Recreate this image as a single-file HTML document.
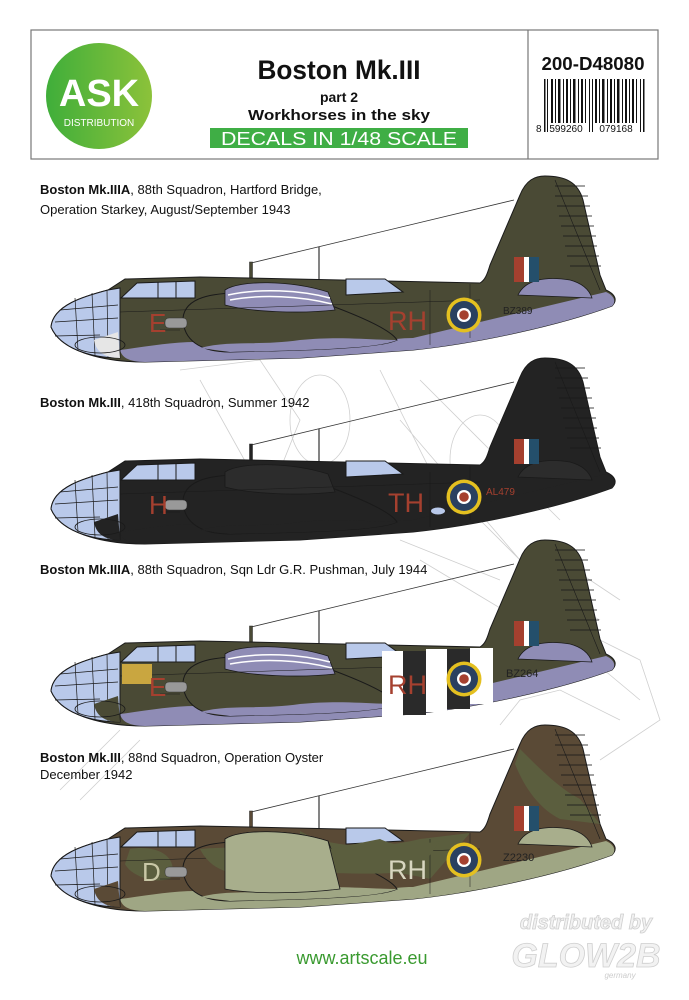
<!DOCTYPE html>
<html><head><meta charset="utf-8">
<style>
html,body{margin:0;padding:0;background:#fff;}
svg{display:block;}
text{font-family:"Liberation Sans",sans-serif;}
</style></head>
<body>
<svg width="689" height="1000" viewBox="0 0 689 1000" xmlns="http://www.w3.org/2000/svg">
<defs>
<g id="plane">
  <!-- antenna -->
  <line x1="251" y1="263" x2="514" y2="200" stroke="#333" stroke-width="0.8"/>
  <rect x="249.5" y="262" width="3" height="16" fill="var(--body)" stroke="#222" stroke-width="0.5"/>
  <line x1="319" y1="247" x2="319" y2="280" stroke="#333" stroke-width="1.2"/>
  <!-- body -->
  <path d="M51,327 C53,305 85,296 108,290 L125,279 L200,277 L480,283 C485,280 487,275 490,265 L520,195 C526,180 535,176 545,176 C565,176 578,182 583,200 L600,275 L606,290 C615,294 618,300 612,306 C560,325 480,343 413,350 L300,358 L145,362 C100,362 60,350 51,327 Z" fill="var(--body)" stroke="#1a1a1a" stroke-width="1"/>
  <!-- camo patches -->
  <path d="M300,282 C330,300 380,300 420,290 L470,284 L430,330 C390,320 340,320 300,310 Z" fill="var(--camo)" opacity="var(--camoop)"/>
  <path d="M520,200 C540,220 560,240 580,250 L600,275 L560,270 C540,260 525,240 515,215 Z" fill="var(--camo)" opacity="var(--camoop)"/>
  <path d="M130,300 C160,295 180,310 170,330 C150,335 130,325 125,315 Z" fill="var(--camo)" opacity="var(--camoop)"/>
  <!-- belly -->
  <path d="M120,350 C160,345 190,338 230,345 C260,350 280,340 320,345 C360,350 380,338 413,338 L606,292 C615,296 616,302 612,306 C560,325 480,343 413,350 L300,358 L145,362 C130,362 122,358 120,350 Z" fill="var(--belly)"/>
  <!-- nacelle -->
  <path d="M183,318 C185,298 210,292 250,293 L310,298 C350,312 390,328 397,340 C380,348 320,350 230,352 C200,352 183,340 183,318 Z" fill="var(--body)" stroke="#1a1a1a" stroke-width="1"/>
  <path d="M200,348 C230,340 260,346 300,340 C340,336 370,340 397,340 C380,348 320,350 230,352 Z" fill="var(--belly)"/>
  <path d="M225,290 C240,280 290,280 328,292 L335,310 C300,314 250,312 225,305 Z" fill="var(--wing)" stroke="#1a1a1a" stroke-width="0.8"/>
  <path d="M228,295 C260,288 300,290 330,298 M230,300 C262,294 300,296 332,304" stroke="#fff" stroke-width="1.5" fill="none" opacity="var(--stripes)"/>
  <!-- nose glazing -->
  <path d="M51,327 C53,305 85,296 108,290 L120,288 L120,358 C90,358 60,348 51,327 Z" fill="#b9c9ea" stroke="#1a1a1a" stroke-width="1"/>
  <path d="M60,310 L118,305 M55,322 L118,318 M55,336 L100,335 M75,298 L78,350 M92,293 L95,355 M107,290 L108,357" stroke="#1a1a1a" stroke-width="0.7" fill="none"/>
  <path d="M94,340 L118,332 L120,358 C105,358 96,352 94,340 Z" fill="var(--nosebot)"/>
  <ellipse cx="100" cy="345" rx="25" ry="8" fill="none" stroke="#1a1a1a" stroke-width="0.8"/>
  <!-- cockpits -->
  <path d="M121,298 L137,283 L195,281 L195,298 Z" fill="#b9c9ea" stroke="#1a1a1a" stroke-width="1"/>
  <path d="M158,282 L158,298 M176,282 L176,298" stroke="#1a1a1a" stroke-width="1"/>
  <path d="M346,295 L346,279 L385,279 L403,292 Z" fill="#b9c9ea" stroke="#1a1a1a" stroke-width="1"/>
  <!-- stabilizer -->
  <path d="M518,295 C525,280 545,276 570,280 C585,284 590,292 592,298 Z" fill="var(--wing)" stroke="#1a1a1a" stroke-width="0.8"/>
  <!-- rudder lines -->
  <path d="M555,186 L585,186 M555,196 L588,196 M557,206 L590,206 M559,216 L592,216 M561,226 L594,226 M563,236 L596,236 M565,246 L597,246 M567,256 L599,256 M570,266 L601,266" stroke="#1a1a1a" stroke-width="0.9" opacity="0.8"/>
  <line x1="555" y1="180" x2="600" y2="290" stroke="#1a1a1a" stroke-width="0.6"/>
  <!-- panel lines -->
  <path d="M120,312 L480,300 M160,330 L180,330 M430,290 L430,345 M470,284 L470,338" stroke="#1a1a1a" stroke-width="0.5" fill="none"/>
  <rect x="165" y="318" width="22" height="10" rx="4" fill="#999" stroke="#333" stroke-width="0.5"/>
  <!-- fin flash -->
  <rect x="514" y="257" width="10" height="25" fill="#a5402f"/>
  <rect x="524" y="257" width="5" height="25" fill="#fff"/>
  <rect x="529" y="257" width="10" height="25" fill="#244f6b"/>
</g>
<g id="roundel">
  <circle r="17.5" fill="var(--ring)"/>
  <circle r="14" fill="#2a4060"/>
  <circle r="7" fill="#fff"/>
  <circle r="4.8" fill="#a5402f"/>
</g>
</defs>

<!-- header -->
<rect x="31" y="30" width="627" height="129" fill="#fff" stroke="#777" stroke-width="1.2"/>
<line x1="528" y1="30" x2="528" y2="159" stroke="#777" stroke-width="1.2"/>
<defs><linearGradient id="lg" x1="0" x2="1"><stop offset="0" stop-color="#3fae3a"/><stop offset="1" stop-color="#8cc23a"/></linearGradient></defs>
<ellipse cx="99" cy="96" rx="53" ry="53" fill="url(#lg)"/>
<text x="99" y="106" text-anchor="middle" font-size="38" font-weight="bold" fill="#fff">ASK</text>
<text x="99" y="126" text-anchor="middle" font-size="10" fill="#fff">DISTRIBUTION</text>
<text x="339" y="79" text-anchor="middle" font-size="27" font-weight="bold" fill="#111" textLength="163" lengthAdjust="spacingAndGlyphs">Boston Mk.III</text>
<text x="339" y="102" text-anchor="middle" font-size="14" font-weight="bold" fill="#111">part 2</text>
<text x="339" y="120" text-anchor="middle" font-size="15" font-weight="bold" fill="#111" textLength="182" lengthAdjust="spacingAndGlyphs">Workhorses in the sky</text>
<rect x="210" y="128" width="258" height="20" fill="#3fae45"/>
<text x="339" y="145" text-anchor="middle" font-size="18" fill="#fff" textLength="236" lengthAdjust="spacingAndGlyphs">DECALS IN 1/48 SCALE</text>
<text x="593" y="70" text-anchor="middle" font-size="18" font-weight="bold" fill="#111" textLength="103" lengthAdjust="spacingAndGlyphs">200-D48080</text>
<g fill="#111">
<rect x="544" y="79" width="1.5" height="53"/><rect x="547" y="79" width="1" height="53"/>
<rect x="551" y="79" width="2" height="44"/><rect x="555" y="79" width="1" height="44"/><rect x="558" y="79" width="2.5" height="44"/><rect x="563" y="79" width="1" height="44"/><rect x="566" y="79" width="2" height="44"/><rect x="570" y="79" width="1" height="44"/><rect x="573" y="79" width="2.5" height="44"/><rect x="578" y="79" width="1" height="44"/><rect x="581" y="79" width="2" height="44"/><rect x="585" y="79" width="1" height="44"/>
<rect x="589" y="79" width="1" height="53"/><rect x="592" y="79" width="1" height="53"/>
<rect x="595" y="79" width="2" height="44"/><rect x="599" y="79" width="1" height="44"/><rect x="602" y="79" width="2.5" height="44"/><rect x="607" y="79" width="1" height="44"/><rect x="610" y="79" width="2" height="44"/><rect x="614" y="79" width="1" height="44"/><rect x="617" y="79" width="2.5" height="44"/><rect x="622" y="79" width="1" height="44"/><rect x="625" y="79" width="2" height="44"/><rect x="629" y="79" width="1" height="44"/><rect x="632" y="79" width="2" height="44"/><rect x="636" y="79" width="1" height="44"/>
<rect x="640" y="79" width="1" height="53"/><rect x="643" y="79" width="1.5" height="53"/>
</g>
<text x="536" y="132" font-size="10" fill="#111">8</text>
<text x="566" y="132" text-anchor="middle" font-size="10" fill="#111">599260</text>
<text x="616" y="132" text-anchor="middle" font-size="10" fill="#111">079168</text>

<!-- faint ghost drawings -->
<g stroke="#cfcfcf" stroke-width="0.8" fill="none">
<path d="M180,370 L260,360 L300,420 L260,520 M200,380 L250,470 M380,370 L430,470 L560,600 L600,620 M400,420 L520,560 M420,380 L560,520 M560,620 L640,660 L660,720 L600,760 M580,650 L640,700 M560,560 L620,600 M400,540 L500,580 M420,560 L520,620 M120,730 L60,790 M140,740 L80,800 M500,725 L520,700 L560,690 L620,720"/>
<ellipse cx="320" cy="420" rx="30" ry="45"/>
<ellipse cx="480" cy="460" rx="30" ry="45"/>
</g>

<!-- plane 1 -->
<use href="#plane" style="--body:#4a4a35;--camo:#4a4a35;--camoop:0;--belly:#8f8cb5;--wing:#8f8cb5;--stripes:1;--nosebot:#e6e6e6"/>
<use href="#roundel" x="464" y="315" style="--ring:#e4c020"/>
<text x="149" y="332" font-size="26" fill="#a5402f">E</text>
<text x="388" y="330" font-size="27" fill="#a5402f">RH</text>
<text x="503" y="314" font-size="10" fill="#222">BZ389</text>
<text x="40" y="194" font-size="13" fill="#111"><tspan font-weight="bold">Boston Mk.IIIA</tspan>, 88th Squadron, Hartford Bridge,</text>
<text x="40" y="214" font-size="13" fill="#111">Operation Starkey, August/September 1943</text>

<!-- plane 2 -->
<g transform="translate(0,182)">
<use href="#plane" style="--body:#232323;--camo:#232323;--camoop:0;--belly:#232323;--wing:#2c2c2c;--stripes:0;--nosebot:#232323"/>
<use href="#roundel" x="464" y="315" style="--ring:#e4c020"/>
<text x="149" y="332" font-size="26" fill="#a5402f">H</text>
<text x="388" y="330" font-size="27" fill="#a5402f">TH</text>
<text x="486" y="313" font-size="10" fill="#a5402f">AL479</text>
<ellipse cx="438" cy="329" rx="7" ry="3.5" fill="#b9c9ea"/>
</g>
<text x="40" y="407" font-size="13" fill="#111"><tspan font-weight="bold">Boston Mk.III</tspan>, 418th Squadron, Summer 1942</text>

<!-- plane 3 -->
<g transform="translate(0,364)">
<use href="#plane" style="--body:#4a4a35;--camo:#4a4a35;--camoop:0;--belly:#8f8cb5;--wing:#8f8cb5;--stripes:1;--nosebot:#4a4a35"/>
<g>
<rect x="382" y="287" width="21" height="66" fill="#fff"/>
<rect x="403" y="287" width="23" height="64" fill="#2a2a2a"/>
<rect x="426" y="285" width="21" height="63" fill="#fff"/>
<rect x="447" y="285" width="23" height="60" fill="#2a2a2a"/>
<rect x="470" y="284" width="23" height="56" fill="#fff"/>
</g>
<use href="#roundel" x="464" y="315" style="--ring:#e4c020"/>
<rect x="122" y="300" width="30" height="20" fill="#c9a640"/>
<text x="149" y="332" font-size="26" fill="#a5402f">E</text>
<text x="388" y="330" font-size="27" fill="#a5402f">RH</text>
<text x="506" y="313" font-size="11" fill="#222">BZ264</text>
</g>
<text x="40" y="574" font-size="13" fill="#111"><tspan font-weight="bold">Boston Mk.IIIA</tspan>, 88th Squadron, Sqn Ldr G.R. Pushman, July 1944</text>

<!-- plane 4 -->
<g transform="translate(0,549)">
<use href="#plane" style="--body:#5a4a36;--camo:#5b5e3e;--camoop:1;--belly:#9fa684;--wing:#a8ae8c;--stripes:0;--nosebot:#5a4a36"/>
<path d="M200,300 C260,295 300,305 330,300 L380,290 C400,300 420,295 440,292 L420,320 C380,330 320,320 260,325 C230,328 210,320 200,300 Z" fill="#5b5e3e"/>
<path d="M225,290 C240,280 290,280 328,292 L340,340 C300,345 250,345 225,340 Z" fill="#a8ae8c" stroke="#1a1a1a" stroke-width="0.8"/>
<use href="#roundel" x="464" y="311" style="--ring:#e4c020"/>
<text x="142" y="332" font-size="26" fill="#c9c7a6">D</text>
<text x="388" y="330" font-size="27" fill="#d8d6c0">RH</text>
<text x="503" y="312" font-size="11" fill="#222">Z2230</text>
</g>
<text x="40" y="762" font-size="13" fill="#111"><tspan font-weight="bold">Boston Mk.III</tspan>, 88nd Squadron, Operation Oyster</text>
<text x="40" y="779" font-size="13" fill="#111">December 1942</text>

<!-- footer -->
<text x="362" y="964" text-anchor="middle" font-size="18" fill="#3a9a30">www.artscale.eu</text>
<text x="586" y="929" text-anchor="middle" font-size="20" font-weight="bold" font-style="italic" fill="#f2f2f2" stroke="#cfcfcf" stroke-width="0.8">distributed by</text>
<text x="586" y="967" text-anchor="middle" font-size="34" font-weight="bold" font-style="italic" fill="#f2f2f2" stroke="#cfcfcf" stroke-width="0.8">GLOW2B</text>
<text x="620" y="978" text-anchor="middle" font-size="8" font-style="italic" fill="#ccc">germany</text>
</svg>
</body></html>
